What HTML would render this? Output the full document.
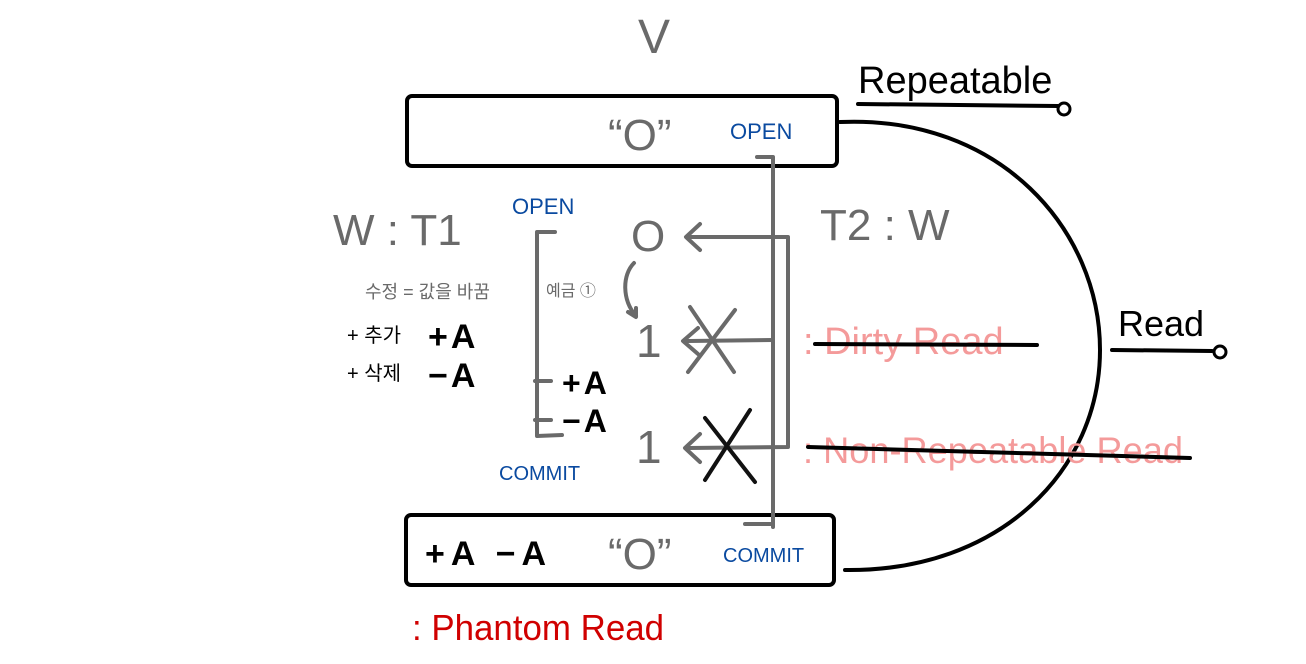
<!DOCTYPE html>
<html><head><meta charset="utf-8"><style>
html,body{margin:0;padding:0;background:#fff;width:1306px;height:664px;overflow:hidden}
svg{display:block}
text{font-family:"Liberation Sans","Noto Sans CJK KR",sans-serif}
</style></head><body>
<svg width="1306" height="664" viewBox="0 0 1306 664" xmlns="http://www.w3.org/2000/svg">
<g fill="none" stroke-linecap="round" stroke-linejoin="round">
<rect x="407" y="96" width="430" height="70" rx="5" stroke="#000" stroke-width="4"/>
<rect x="406" y="515" width="428" height="70" rx="5" stroke="#000" stroke-width="4"/>
<path d="M840,122 C1000,115 1100,230 1100,350 C1100,470 1000,572 845,570" stroke="#000" stroke-width="4"/>
<g stroke="#6a6a6a" stroke-width="4">
<path d="M757,157 L773,157 L773,527"/>
<path d="M745,524 L773,524"/>
<path d="M688,237 L788,237 L788,447 L688,448"/>
<path d="M688,341 L773,340"/>
<path d="M700,224 L686,237 L700,250"/>
<path d="M698,328 L683,341 L698,354"/>
<path d="M700,434 L685,448 L700,462"/>
<path d="M555,232 L537,232 L537,436 L562,435"/>
<path d="M535,381 L551,381 M535,420 L551,420"/>
<path d="M634,263 C622,275 622,300 636,316 M628,312 L636,317 L636,308"/>
<path d="M690,307 L734,372 M735,310 L688,372"/>
</g>
<path d="M705,418 L755,482 M750,410 L705,480" stroke="#111" stroke-width="4"/>
<path d="M858,104 L1058,106" stroke="#000" stroke-width="4"/>
<circle cx="1064" cy="109" r="6" stroke="#000" stroke-width="3"/>
<path d="M1112,350 L1212,351" stroke="#000" stroke-width="4"/>
<circle cx="1220" cy="352" r="6" stroke="#000" stroke-width="3"/>
</g>
<g fill="#6a6a6a">
<text x="638" y="53" font-size="48">V</text>
<text x="608" y="150" font-size="44">“O”</text>
<text x="608" y="569" font-size="44">“O”</text>
<text x="333" y="245" font-size="44">W : T1</text>
<text x="820" y="240" font-size="44">T2 : W</text>
<text x="631" y="251" font-size="44">O</text>
<text x="636" y="357" font-size="46">1</text>
<text x="636" y="463" font-size="46">1</text>
<text x="365" y="298" font-size="18">수정 = 값을 바꿈</text>
<text x="546" y="296" font-size="16">예금 ①</text>
</g>
<g fill="#0a4aa0" font-size="22">
<text x="730" y="139">OPEN</text>
<text x="723" y="562" font-size="20">COMMIT</text>
<text x="512" y="214">OPEN</text>
<text x="499" y="480" font-size="20">COMMIT</text>
</g>
<g fill="#000">
<text x="858" y="93" font-size="38">Repeatable</text>
<text x="1118" y="336" font-size="36">Read</text>
<text x="347" y="342" font-size="20">+ 추가</text>
<text x="347" y="380" font-size="20">+ 삭제</text>
<text x="428" y="348" font-size="34" font-weight="bold" letter-spacing="3">+A</text>
<text x="428" y="387" font-size="34" font-weight="bold" letter-spacing="3">−A</text>
<text x="562" y="394" font-size="32" font-weight="bold" letter-spacing="3">+A</text>
<text x="562" y="432" font-size="32" font-weight="bold" letter-spacing="3">−A</text>
<text x="425" y="565" font-size="34" font-weight="bold" letter-spacing="6">+A −A</text>
</g>
<g fill="#f49a9a">
<text x="803" y="354" font-size="38">: Dirty Read</text>
<text x="803" y="463" font-size="37" textLength="380" lengthAdjust="spacingAndGlyphs">: Non-Repeatable Read</text>
</g>
<path d="M815,344 L1037,345" stroke="#000" stroke-width="4" stroke-linecap="round"/>
<path d="M808,447 L1190,458" stroke="#000" stroke-width="4" stroke-linecap="round"/>
<text x="412" y="640" font-size="36" fill="#d00000" textLength="252" lengthAdjust="spacingAndGlyphs">: Phantom Read</text>
</svg>
</body></html>
